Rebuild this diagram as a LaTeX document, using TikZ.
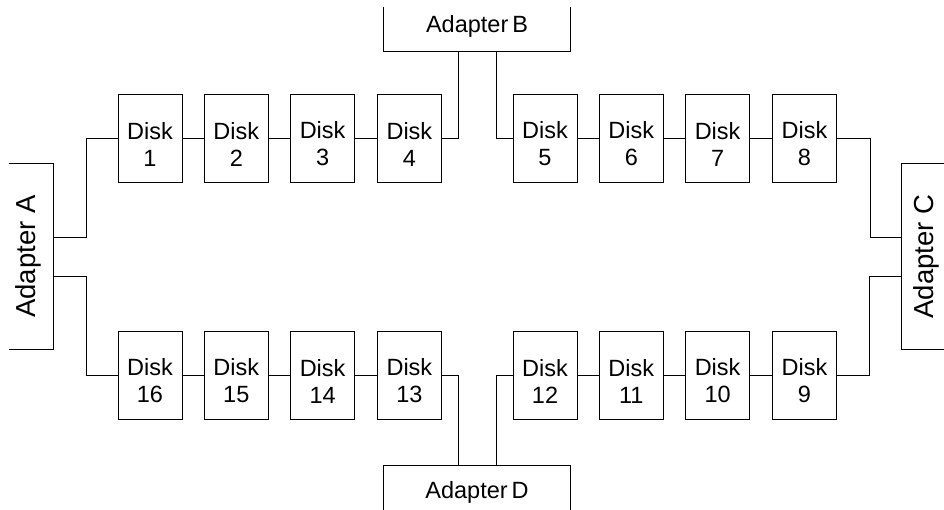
\documentclass[tikz,border=0pt]{standalone}
\usepackage{fontspec}
\setmainfont{Liberation Sans}
\usepackage{graphicx}
\usepackage{tikz}

% lowers the two text lines of a disk a little
\newcommand{\disklift}{\rule{0pt}{29pt}}

\begin{document}
\begin{tikzpicture}[x=1pt,y=-1pt,line width=1pt,
    every node/.style={font=\fontsize{23.5}{27}\selectfont},
    disk/.style={draw=black,rectangle,minimum width=64pt,minimum height=88pt,
      inner sep=0pt,align=center},
    adapter/.style={rectangle,inner sep=0pt},
    sidetext/.style={font=\fontsize{27.5}{30}\selectfont},
    bus/.style={draw=black}]
    \useasboundingbox (0,0) rectangle (944,509);

        % adapters, drawn open on one side
        \node[adapter,minimum width=44pt,minimum height=185pt] (adA) at (31,256.5) {};
        \node[adapter,minimum width=186pt,minimum height=44pt] (adB) at (477,29) {};
        \node[adapter,minimum width=44pt,minimum height=185pt] (adC) at (924,256.5) {};
        \node[adapter,minimum width=186pt,minimum height=44pt] (adD) at (477,488) {};
        \draw (adA.north west) -- (adA.north east) -- (adA.south east) -- (adA.south west);
        \draw (adB.north west) -- (adB.south west) -- (adB.south east) -- (adB.north east);
        \draw (adC.north east) -- (adC.north west) -- (adC.south west) -- (adC.south east);
        \draw (adD.south west) -- (adD.north west) -- (adD.north east) -- (adD.south east);
        \node[sidetext,xshift=-3pt] at (adA) {\rotatebox{90}{Adapter A}};
        \node[yshift=3pt] at (adB) {Adapter\,B};
        \node[sidetext,xshift=2pt] at (adC) {\rotatebox{90}{Adapter C}};
        \node[yshift=-4pt] at (adD) {Adapter\,D};

        % upper row
        \node[disk] (d1) at (150,138) {\disklift Disk\\1};
        \node[disk] (d2) at (236.3,138) {\disklift Disk\\2};
        \node[disk] (d3) at (322.6,138) {\disklift Disk\\3};
        \node[disk] (d4) at (409.4,138) {\disklift Disk\\4};
        \node[disk] (d5) at (545,138) {\disklift Disk\\5};
        \node[disk] (d6) at (631.3,138) {\disklift Disk\\6};
        \node[disk] (d7) at (717.6,138) {\disklift Disk\\7};
        \node[disk] (d8) at (804.4,138) {\disklift Disk\\8};

        % lower row
        \node[disk] (d16) at (150,375) {\disklift Disk\\16};
        \node[disk] (d15) at (236.3,375) {\disklift Disk\\15};
        \node[disk] (d14) at (322.6,375) {\disklift Disk\\14};
        \node[disk] (d13) at (409.4,375) {\disklift Disk\\13};
        \node[disk] (d12) at (545,375) {\disklift Disk\\12};
        \node[disk] (d11) at (631.3,375) {\disklift Disk\\11};
        \node[disk] (d10) at (717.6,375) {\disklift Disk\\10};
        \node[disk] (d9) at (804.4,375) {\disklift Disk\\9};

        % links between disks
        \draw[bus] (d1) -- (d2) -- (d3) -- (d4);
        \draw[bus] (d5) -- (d6) -- (d7) -- (d8);
        \draw[bus] (d16) -- (d15) -- (d14) -- (d13);
        \draw[bus] (d12) -- (d11) -- (d10) -- (d9);

        % links to adapters
        \draw[bus] ([yshift=19.5pt]adA.east) -- ++(33,0) |- (d1.west);
        \draw[bus] ([yshift=-19.5pt]adA.east) -- ++(33,0) |- (d16.west);
        \draw[bus] (d4.east) -| ([xshift=-19pt]adB.south);
        \draw[bus] ([xshift=19pt]adB.south) |- (d5.west);
        \draw[bus] (d8.east) -- ++(33.6,0) |- ([yshift=19.5pt]adC.west);
        \draw[bus] ([yshift=-19.5pt]adC.west) -- ++(-32,0) |- (d9.east);
        \draw[bus] (d13.east) -| ([xshift=-19pt]adD.north);
        \draw[bus] ([xshift=19pt]adD.north) |- (d12.west);

\end{tikzpicture}
\end{document}
